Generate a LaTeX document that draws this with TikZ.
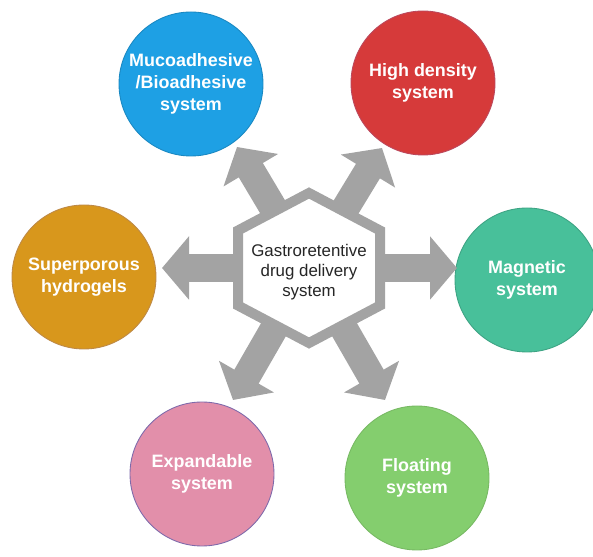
\documentclass[tikz,border=0pt]{standalone}
\usepackage{fontspec}
\setmainfont{Liberation Sans}
\usetikzlibrary{arrows.meta,positioning}
\definecolor{spokegray}{RGB}{163,163,163}
\definecolor{mucoblue}{RGB}{30,160,228}
\definecolor{densered}{RGB}{214,58,58}
\definecolor{magnetteal}{RGB}{72,192,154}
\definecolor{floatgreen}{RGB}{132,206,110}
\definecolor{expandpink}{RGB}{226,143,170}
\definecolor{poreorange}{RGB}{216,151,28}
\definecolor{rimviolet}{RGB}{125,105,170}

\begin{document}
\begin{tikzpicture}[
  bubble/.style={circle,minimum size=2.88cm,inner sep=0pt,align=center,text=white,
    line width=0.5pt,font=\bfseries\fontsize{10.2}{12.4}\selectfont},
  spoke/.style={draw=spokegray,line width=0.56cm,-{Triangle[width=1.24cm,length=0.54cm]}}]
\useasboundingbox (0,0) rectangle (11.86,11.14);

% the six delivery systems
\node[bubble,fill=mucoblue,draw=mucoblue!85!black] (muco) at (3.82,9.46)
  {Mucoadhesive\\/Bioadhesive\\system};
\node[bubble,fill=densered,draw=densered!70!rimviolet] (dense) at (8.46,9.48)
  {High density\\system};
\node[bubble,fill=magnetteal,draw=magnetteal!85!black] (magnet) at (10.54,5.54)
  {Magnetic\\system};
\node[bubble,fill=floatgreen,draw=floatgreen!90!black] (float) at (8.34,1.58)
  {Floating\\system};
\node[bubble,fill=expandpink,draw=rimviolet] (expand) at (4.04,1.66)
  {Expandable\\system};
\node[bubble,fill=poreorange,draw=poreorange!70!rimviolet] (pore) at (1.68,5.60)
  {Superporous\\hydrogels};

% spokes, ending just short of each circle
\coordinate (core) at (6.18,5.78);
\coordinate (tipmuco) at (4.74,8.20);
\coordinate (tipdense) at (7.64,8.18);
\coordinate (tipmagnet) at (9.14,5.78);
\coordinate (tipfloat) at (7.70,3.14);
\coordinate (tipexpand) at (4.66,3.14);
\coordinate (tippore) at (3.24,5.78);
\foreach \t in {tipmuco,tipdense,tipmagnet,tipfloat,tipexpand,tippore}
  \draw[spoke] (core) -- (\t);

% hexagon hub over the spoke tails
\draw[spokegray,line width=0.2cm,fill=white] (core) ++(0,1.5) -- ++(1.42,-0.75)
  -- ++(0,-1.5) -- ++(-1.42,-0.75) -- ++(-1.42,0.75) -- ++(0,1.5) -- cycle;
\node[align=center,font=\fontsize{9.6}{11.4}\selectfont,text=black!85] (hub)
  at ([yshift=-0.08cm]core) {Gastroretentive\\drug delivery\\system};
\end{tikzpicture}
\end{document}
